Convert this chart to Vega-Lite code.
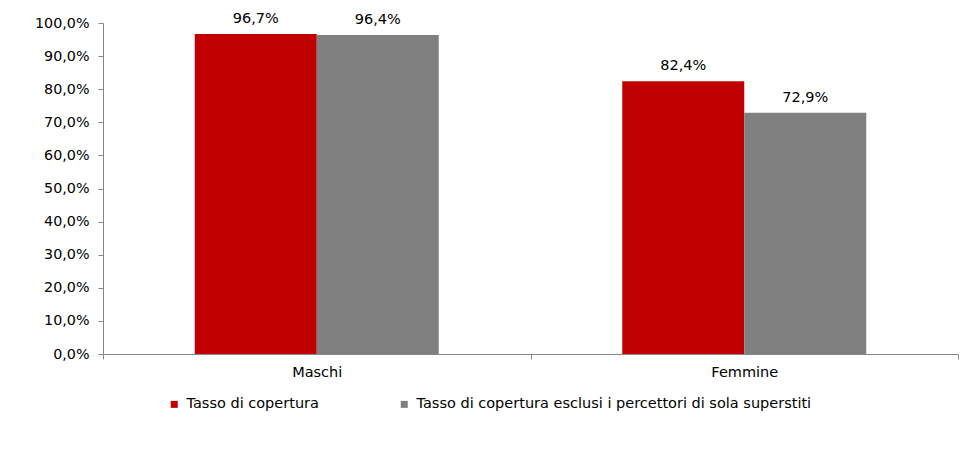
{
  "$schema": "https://vega.github.io/schema/vega-lite/v6.json",
  "width": 855,
  "height": 331,
  "autosize": "none",
  "padding": {"left": 103, "top": 23, "right": 22, "bottom": 96},
  "background": "white",
  "config": {
    "view": {"stroke": null},
    "font": "DejaVu Sans",
    "locale": {"number": {"decimal": ",", "thousands": ".", "grouping": [3], "currency": ["", " €"]}}
  },
  "data": {
    "values": [
      {"genere": "Maschi", "serie": "Tasso di copertura", "valore": 0.967},
      {"genere": "Maschi", "serie": "Tasso di copertura esclusi i percettori di sola superstiti", "valore": 0.964},
      {"genere": "Femmine", "serie": "Tasso di copertura", "valore": 0.824},
      {"genere": "Femmine", "serie": "Tasso di copertura esclusi i percettori di sola superstiti", "valore": 0.729}
    ]
  },
  "encoding": {
    "x": {
      "field": "genere", "type": "nominal", "sort": ["Maschi", "Femmine"],
      "scale": {"paddingInner": 0, "paddingOuter": 0},
      "axis": {
        "title": null, "labelAngle": 0, "labelFontSize": 14.5, "labelColor": "#000000",
        "domainColor": "#868686", "tickColor": "#868686", "tickSize": 5, "tickBand": "extent",
        "labelPadding": 6, "grid": false
      }
    },
    "xOffset": {
      "field": "serie", "type": "nominal",
      "scale": {"paddingInner": 0, "paddingOuter": 0.752}
    },
    "y": {
      "field": "valore", "type": "quantitative",
      "scale": {"domain": [0, 1]},
      "axis": {
        "title": null, "format": ".1%", "values": [0, 0.1, 0.2, 0.3, 0.4, 0.5, 0.6, 0.7, 0.8, 0.9, 1.0],
        "labelOverlap": false, "labelFontSize": 14.3, "labelColor": "#000000", "grid": false,
        "domainColor": "#868686", "tickColor": "#868686", "tickSize": 5, "labelPadding": 9
      }
    }
  },
  "layer": [
    {
      "mark": {"type": "bar"},
      "encoding": {
        "color": {
          "field": "serie", "type": "nominal",
          "scale": {"domain": ["Tasso di copertura", "Tasso di copertura esclusi i percettori di sola superstiti"], "range": ["#C00000", "#808080"]},
          "legend": {
            "title": null, "orient": "none", "direction": "horizontal",
            "legendX": 64, "legendY": 374,
            "symbolType": "square", "symbolSize": 49, "symbolStrokeWidth": 0,
            "labelFontSize": 14.5, "labelColor": "#000000", "labelOffset": 5,
            "columnPadding": 78, "labelLimit": 500
          }
        }
      }
    },
    {
      "mark": {"type": "text", "baseline": "bottom", "dy": -8, "fontSize": 14.5, "color": "#000000"},
      "encoding": {
        "text": {"field": "valore", "type": "quantitative", "format": ".1%"}
      }
    }
  ]
}
